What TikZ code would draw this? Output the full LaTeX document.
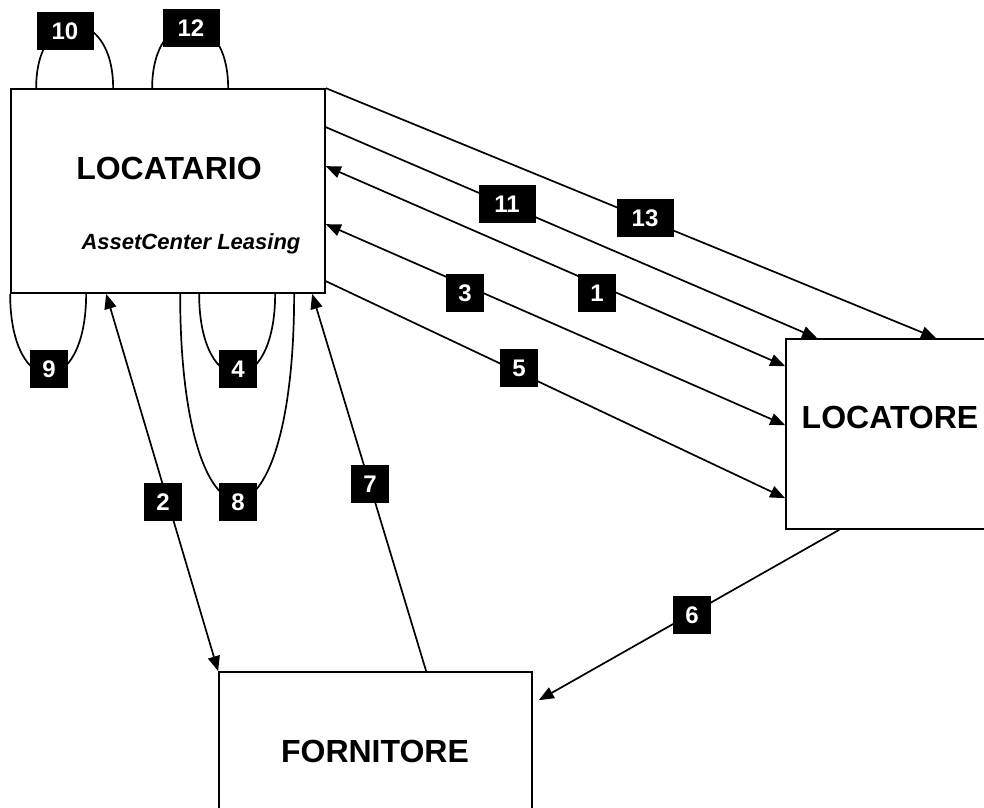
\documentclass[tikz,border=0pt]{standalone}
\usepackage{fontspec}
\setmainfont{Liberation Sans}
\usetikzlibrary{arrows.meta,calc}
\begin{document}
\begin{tikzpicture}[x=1pt,y=-1pt,
  box/.style={draw=black,line width=1.7pt,fill=white,inner sep=0pt},
  ttl/.style={font=\fontsize{32}{36}\selectfont\bfseries,inner sep=0pt},
  lbl/.style={fill=black,text=white,font=\fontsize{24}{28}\selectfont\bfseries,minimum width=38pt,minimum height=38pt,inner sep=0pt},
  lblw/.style={lbl,minimum width=57pt},
  conn/.style={line width=1.7pt},
  tip/.style={-{Triangle[length=15pt,width=12pt]}},
  tips/.style={{Triangle[length=15pt,width=12pt]}-{Triangle[length=15pt,width=12pt]}}]
\clip (0,0) rectangle (984,807);
\fill[white] (0,0) rectangle (984,807);
% boxes
\node[box,minimum width=314pt,minimum height=204pt] (ta) at (168,191) {};
\node[box,minimum width=209pt,minimum height=190pt] (tore) at (890.5,434) {};
\node[box,minimum width=313pt,minimum height=160pt] (forn) at (375.5,752) {};
\node[ttl] (tatext) at (169,168) {LOCATARIO};
\node[font=\fontsize{22}{26}\selectfont\bfseries\itshape,inner sep=0pt] (tasub) at (191,244) {AssetCenter Leasing};
\node[ttl] (toretext) at (890,417) {LOCATORE};
\node[ttl] (forntext) at (375,751) {FORNITORE};
% connectors to LOCATORE
\draw[conn,tip] (ta.north east) -- ($(tore.north west)+(151,0)$);
\draw[conn,tip] ($(ta.north east)+(0,39)$) -- ($(tore.north west)+(32,0)$);
\draw[conn,tips] ($(ta.north east)+(0,78)$) -- ($(tore.north west)+(0,28)$);
\draw[conn,tips] ($(ta.north east)+(0,136)$) -- ($(tore.north west)+(0,87)$);
\draw[conn,tip] ($(ta.north east)+(0,193)$) -- ($(tore.north west)+(0,160)$);
% LOCATARIO - FORNITORE
\draw[conn,tips] ($(ta.south west)+(96,0)$) -- (forn.north west);
\draw[conn,tip] ($(forn.north west)+(208,0)$) -- ($(ta.south west)+(302,0)$);
% LOCATORE - FORNITORE
\draw[conn,tip] ($(tore.south west)+(54,0)$) -- ($(forn.north east)+(6,29)$);
% loops
\draw[conn] ($(ta.north west)+(26,0)$) .. controls +(0,-84) and +(0,-84) .. ($(ta.north west)+(103,0)$);
\draw[conn] ($(ta.north west)+(142,0)$) .. controls +(0,-84) and +(0,-84) .. ($(ta.north west)+(218,0)$);
\draw[conn] (ta.south west) .. controls +(0,107) and +(0,107) .. ($(ta.south west)+(76,0)$);
\draw[conn] ($(ta.south west)+(189,0)$) .. controls +(0,107) and +(0,107) .. ($(ta.south west)+(265,0)$);
\draw[conn] ($(ta.south west)+(170,0)$) .. controls +(0,275) and +(0,275) .. ($(ta.south west)+(284,0)$);
% labels
\node[lblw] (l10) at (65,31) {10};
\node[lblw] (l12) at (191,28) {12};
\node[lblw] (l11) at (507,204) {11};
\node[lblw] (l13) at (645,218) {13};
\node[lbl] (l1) at (597,293) {1};
\node[lbl] (l3) at (465,293) {3};
\node[lbl] (l5) at (519,368) {5};
\node[lbl] (l9) at (49,369) {9};
\node[lbl] (l4) at (238,369) {4};
\node[lbl] (l2) at (163,502) {2};
\node[lbl] (l8) at (238,502) {8};
\node[lbl] (l7) at (370,484) {7};
\node[lbl] (l6) at (692,615) {6};
\end{tikzpicture}
\end{document}
